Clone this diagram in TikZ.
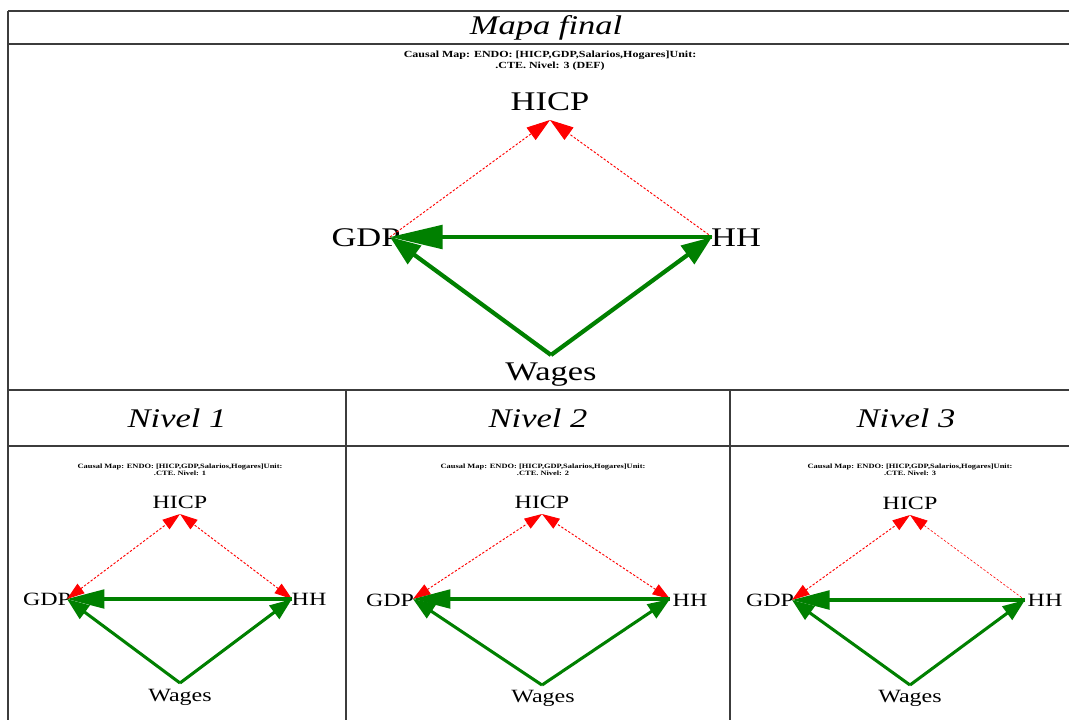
\documentclass[tikz,border=0pt]{standalone}
\usepackage{fontspec}
\setmainfont{Liberation Serif}[FakeStretch=1.28]
\usetikzlibrary{arrows.meta}

\definecolor{mapgreen}{RGB}{0,128,0}
\definecolor{mapred}{RGB}{255,0,0}
\definecolor{rulegray}{RGB}{60,60,60}

\tikzset{
  rule/.style={draw=rulegray, line width=1.2pt},
  heading/.style={font=\itshape\fontsize{23}{26}\selectfont, inner sep=0pt},
  mapcaption/.style 2 args={font=\bfseries\fontsize{#1}{#2}\selectfont, align=center, inner sep=0pt},
  varlabel/.style={font=\fontsize{#1}{#1}\selectfont, inner sep=0pt},
  causal/.style={draw=mapgreen, line width=#1},
  redlink/.style={draw=mapred, line width=#1, dash pattern=on 2pt off 1.5pt},
}

\begin{document}
\begin{tikzpicture}[x=0.3mm, y=-0.3mm]
      \useasboundingbox (0,0) rectangle (1069,720);
      \fill[white] (0,0) rectangle (1069,720);

      \draw[rule] (8,11) -- (1069,11);
      \draw[rule] (8,44) -- (1069,44);
      \draw[rule] (8,390) -- (1069,390);
      \draw[rule] (8,446) -- (1069,446);
      \draw[rule] (8,11) -- (8,720);
      \draw[rule] (346,390) -- (346,720);
      \draw[rule] (730,390) -- (730,720);

      \node[heading] (mapafinal) at (546,28) {Mapa final};
      \node[heading] (nivel1) at (177,418) {Nivel 1};
      \node[heading] (nivel2) at (538,418) {Nivel 2};
      \node[heading] (nivel3) at (906,418) {Nivel 3};

      \node[mapcaption={8pt}{9pt}] (capF) at (550,60.5)
        {Causal Map: ENDO: [HICP,GDP,Salarios,Hogares]Unit:\\.CTE. Nivel: 3 (DEF)};
      \node[varlabel=23pt] (HICPf) at (550,102) {HICP};
      \node[varlabel=23pt] (GDPf) at (366,238) {GDP};
      \node[varlabel=23pt] (HHf) at (736,238) {HH};
      \node[varlabel=23pt] (Wagesf) at (551,375) {Wages};
      \coordinate (hicpf) at (550,120);
      \coordinate (gdpf) at (390,237);
      \coordinate (hhf) at (712,237);
      \coordinate (wagesf) at (551,355);
      \draw[redlink=0.8pt, -{Triangle[length=20pt,width=13pt]}] (gdpf) -- (hicpf);
      \draw[redlink=0.8pt, -{Triangle[length=20pt,width=13pt]}] (hhf) -- (hicpf);
      \draw[causal=3.6pt, -{Triangle[length=45pt,width=20pt]}] (hhf) -- (gdpf);
      \draw[causal=3.6pt, -{Triangle[length=26pt,width=19pt]}] (wagesf) -- (gdpf);
      \draw[causal=3.6pt, -{Triangle[length=26pt,width=19pt]}] (wagesf) -- (hhf);

      \node[mapcaption={5.6pt}{6pt}] (cap1) at (180,469.5)
        {Causal Map: ENDO: [HICP,GDP,Salarios,Hogares]Unit:\\.CTE. Nivel: 1};
      \node[varlabel=16pt] (HICP1) at (180,502) {HICP};
      \node[varlabel=16pt] (GDP1) at (47,599) {GDP};
      \node[varlabel=16pt] (HH1) at (309,599) {HH};
      \node[varlabel=16pt] (Wages1) at (180,697) {Wages};
      \coordinate (hicp1) at (180,514);
      \coordinate (gdp1) at (67,599);
      \coordinate (hh1) at (292,599);
      \coordinate (wages1) at (180,683);
      \draw[redlink=0.8pt, {Triangle[length=15pt,width=10pt]}-{Triangle[length=15pt,width=10pt]}] (gdp1) -- (hicp1);
      \draw[redlink=0.8pt, {Triangle[length=15pt,width=10pt]}-{Triangle[length=15pt,width=10pt]}] (hh1) -- (hicp1);
      \draw[causal=2.6pt, -{Triangle[length=32pt,width=16pt]}] (hh1) -- (gdp1);
      \draw[causal=2.6pt, -{Triangle[length=19pt,width=14pt]}] (wages1) -- (gdp1);
      \draw[causal=2.6pt, -{Triangle[length=19pt,width=14pt]}] (wages1) -- (hh1);

      \node[mapcaption={5.6pt}{6pt}] (cap2) at (543,469.5)
        {Causal Map: ENDO: [HICP,GDP,Salarios,Hogares]Unit:\\.CTE. Nivel: 2};
      \node[varlabel=16pt] (HICP2) at (542,502) {HICP};
      \node[varlabel=16pt] (GDP2) at (390,600) {GDP};
      \node[varlabel=16pt] (HH2) at (690,600) {HH};
      \node[varlabel=16pt] (Wages2) at (543,698) {Wages};
      \coordinate (hicp2) at (542,514);
      \coordinate (gdp2) at (413,599);
      \coordinate (hh2) at (670,599);
      \coordinate (wages2) at (542,685);
      \draw[redlink=0.8pt, {Triangle[length=15pt,width=10pt]}-{Triangle[length=15pt,width=10pt]}] (gdp2) -- (hicp2);
      \draw[redlink=0.8pt, {Triangle[length=15pt,width=10pt]}-{Triangle[length=15pt,width=10pt]}] (hh2) -- (hicp2);
      \draw[causal=2.6pt, -{Triangle[length=32pt,width=16pt]}] (hh2) -- (gdp2);
      \draw[causal=2.6pt, -{Triangle[length=19pt,width=14pt]}] (wages2) -- (gdp2);
      \draw[causal=2.6pt, -{Triangle[length=19pt,width=14pt]}] (wages2) -- (hh2);

      \node[mapcaption={5.6pt}{6pt}] (cap3) at (910,469.5)
        {Causal Map: ENDO: [HICP,GDP,Salarios,Hogares]Unit:\\.CTE. Nivel: 3};
      \node[varlabel=16pt] (HICP3) at (910,503) {HICP};
      \node[varlabel=16pt] (GDP3) at (770,600) {GDP};
      \node[varlabel=16pt] (HH3) at (1045,600) {HH};
      \node[varlabel=16pt] (Wages3) at (910,698) {Wages};
      \coordinate (hicp3) at (910,515);
      \coordinate (gdp3) at (792,600);
      \coordinate (hh3) at (1025,600);
      \coordinate (wages3) at (910,685);
      \draw[redlink=0.8pt, {Triangle[length=15pt,width=10pt]}-{Triangle[length=15pt,width=10pt]}] (gdp3) -- (hicp3);
      \draw[redlink=0.5pt, -{Triangle[length=15pt,width=10pt]}] (hh3) -- (hicp3);
      \draw[causal=2.6pt, -{Triangle[length=32pt,width=16pt]}] (hh3) -- (gdp3);
      \draw[causal=2.6pt, -{Triangle[length=19pt,width=14pt]}] (wages3) -- (gdp3);
      \draw[causal=2.6pt, -{Triangle[length=19pt,width=14pt]}] (wages3) -- (hh3);
    \end{tikzpicture}
\end{document}
